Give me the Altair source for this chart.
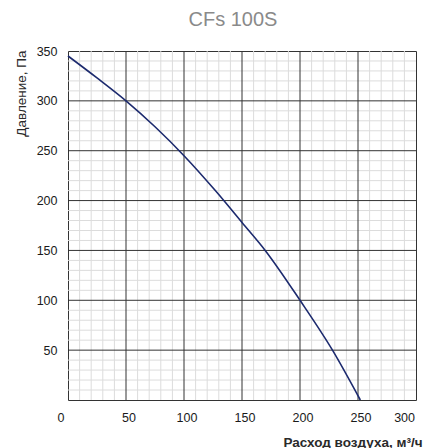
import altair as alt
import pandas as pd

# Curve
flow = [0, 25, 50, 75, 100, 127, 150, 170, 200, 228, 252]
pressure = [345, 323, 300, 274, 245, 210, 178, 150, 100, 50, 0]

x_ticks = [0, 50, 100, 150, 200, 250, 300]
y_ticks = [50, 100, 150, 200, 250, 300, 350]
major_x = [50, 100, 150, 200, 250]
major_y = [50, 100, 150, 200, 250, 300]
minor_x = [v for v in range(10, 300, 10) if v % 50]
minor_y = [v for v in range(10, 350, 10) if v % 50]

FONT = "Liberation Sans"
xs = alt.Scale(domain=[0, 300], nice=False, zero=False)
ys = alt.Scale(domain=[0, 350], nice=False, zero=False)

x_axis = alt.Axis(
    values=x_ticks, grid=False, ticks=False, domain=False,
    labelFont=FONT, labelFontSize=12.5, labelColor="#1a1a1a",
    labelPadding=17, labelBaseline="middle",
    labelOffset=alt.ExprRef(
        expr="datum.value == 0 ? -11 : (datum.value == 300 ? -1.5 : 2.5)"),
    title="Расход воздуха, м³/ч", titleFont=FONT, titleFontSize=13.5,
    titleFontWeight="bold", titleColor="#2a2a2a",
    titleX=354, titleY=46, titleAlign="right", titleBaseline="alphabetic")
y_axis = alt.Axis(
    values=y_ticks, grid=False, ticks=False, domain=False,
    labelFont=FONT, labelFontSize=12.5, labelColor="#1a1a1a",
    labelPadding=11,
    title="Давление, Па", titleFont=FONT, titleFontSize=13.5,
    titleFontWeight="normal", titleColor="#2a2a2a",
    titleAngle=-90, titleX=-46.5, titleY=-1, titleAlign="right",
    titleBaseline="middle")

curve_df = pd.DataFrame({"q": flow, "p": pressure})

minor_v = alt.Chart(pd.DataFrame({"q": minor_x})).mark_rule(
    color="#dcdcdc", strokeWidth=1).encode(x=alt.X("q:Q", scale=xs, axis=x_axis))
minor_h = alt.Chart(pd.DataFrame({"p": minor_y})).mark_rule(
    color="#dcdcdc", strokeWidth=1).encode(y=alt.Y("p:Q", scale=ys, axis=y_axis))
major_v = alt.Chart(pd.DataFrame({"q": major_x})).mark_rule(
    color="#333333", strokeWidth=1).encode(x=alt.X("q:Q", scale=xs, axis=x_axis))
major_h = alt.Chart(pd.DataFrame({"p": major_y})).mark_rule(
    color="#333333", strokeWidth=1).encode(y=alt.Y("p:Q", scale=ys, axis=y_axis))

line = alt.Chart(curve_df).mark_line(
    color="#1c2a6e", strokeWidth=1.6, interpolate="monotone").encode(
    x=alt.X("q:Q", scale=xs, axis=x_axis),
    y=alt.Y("p:Q", scale=ys, axis=y_axis),
)

chart = alt.layer(minor_v, minor_h, major_v, major_h, line).properties(
    width=348, height=349,
    autosize=alt.AutoSizeParams(type="none"),
    padding={"left": 60, "top": 43, "right": 7, "bottom": 48},
    title=alt.TitleParams("CFs 100S", font=FONT, fontSize=20, color="#8a8a8a",
                          fontWeight="normal", anchor="middle", dx=-9, dy=-11),
).configure_view(stroke="#333333", strokeWidth=1)

chart.save("out.html", embed_options={"renderer": "svg", "actions": False})
